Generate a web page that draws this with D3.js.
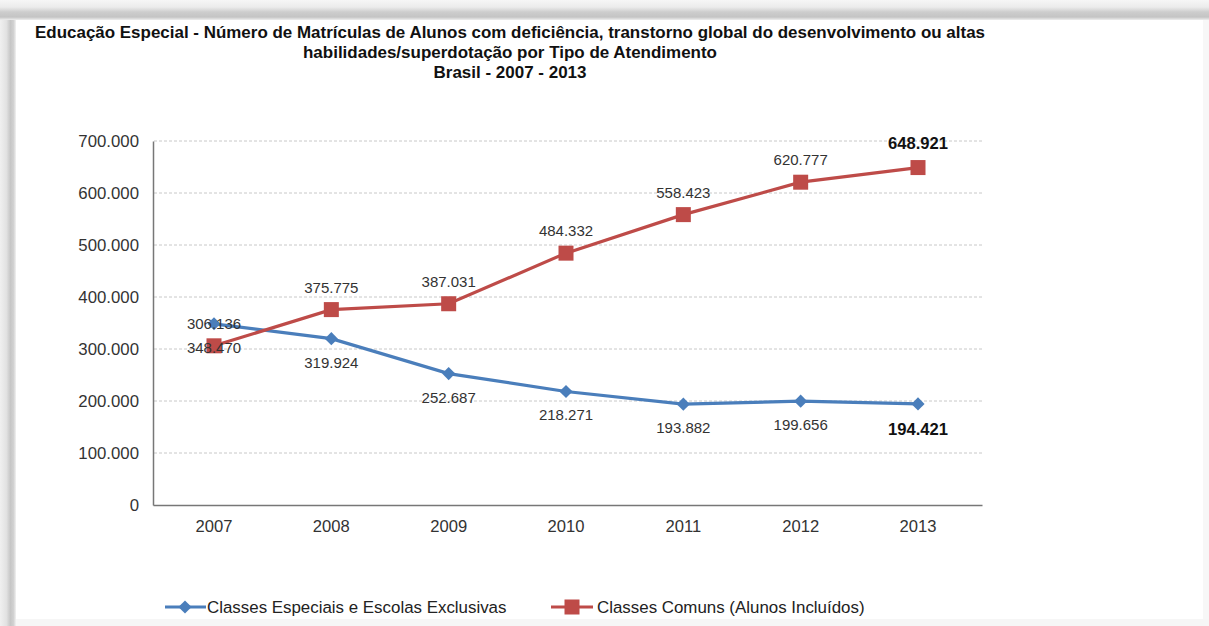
<!DOCTYPE html>
<html><head><meta charset="utf-8">
<script src="https://cdn.jsdelivr.net/npm/d3@7"></script>
<style>html,body{margin:0;padding:0;background:#fff;overflow:hidden}</style>
</head><body>
<svg id="c" width="1209" height="626"></svg>
<script>
const years = ["2007","2008","2009","2010","2011","2012","2013"];
const especiais = [348470, 319924, 252687, 218271, 193882, 199656, 194421];
const comuns = [306136, 375775, 387031, 484332, 558423, 620777, 648921];
const yTicks = [0,100000,200000,300000,400000,500000,600000,700000];
const titleLines = ["Educação Especial - Número de Matrículas de Alunos com deficiência, transtorno global do desenvolvimento ou altas",
  "habilidades/superdotação por Tipo de Atendimento", "Brasil - 2007 - 2013"];
const seriesNames = ["Classes Especiais e Escolas Exclusivas","Classes Comuns (Alunos Incluídos)"];

const svg = d3.select("#c");
const defs = svg.append("defs");
const gt = defs.append("linearGradient").attr("id","gt").attr("x1",0).attr("y1",0).attr("x2",0).attr("y2",1);
[[0,"#f6f6f6"],[0.35,"#ececec"],[0.6,"#cdcdcd"],[0.85,"#c4c4c4"],[1,"#eeeeee"]].forEach(s=>gt.append("stop").attr("offset",s[0]).attr("stop-color",s[1]));
const gl = defs.append("linearGradient").attr("id","gl").attr("x1",0).attr("y1",0).attr("x2",1).attr("y2",0);
[[0,"#f0f0f0"],[0.4,"#e2e2e2"],[0.65,"#c6c6c6"],[0.85,"#d2d2d2"],[1,"#f2f2f2"]].forEach(s=>gl.append("stop").attr("offset",s[0]).attr("stop-color",s[1]));

svg.append("rect").attr("x",0).attr("y",0).attr("width",1209).attr("height",626).attr("fill","#fff");
svg.append("rect").attr("x",0).attr("y",0).attr("width",16).attr("height",626).attr("fill","url(#gl)");
svg.append("rect").attr("x",0).attr("y",0).attr("width",1209).attr("height",20).attr("fill","url(#gt)");
svg.append("rect").attr("x",1203).attr("y",20).attr("width",6).attr("height",606).attr("fill","#f7f7f7");
svg.append("rect").attr("x",16).attr("y",619).attr("width",1193).attr("height",7).attr("fill","#f6f6f6");

// title
const tf = "'Liberation Sans Narrow','Liberation Sans',Arial,sans-serif";
const tpos = [[510,38,950],[510,58,414],[510,78,153]];
titleLines.forEach((t,i)=>{
  svg.append("text").attr("x",tpos[i][0]).attr("y",tpos[i][1]).attr("text-anchor","middle")
    .attr("font-family",tf).attr("font-weight","bold").attr("font-size",16.5).attr("fill","#111")
    .attr("textLength",tpos[i][2]).attr("lengthAdjust","spacingAndGlyphs").text(t);
});

const x = d3.scalePoint().domain(years).range([214,918]);
const y = d3.scaleLinear().domain([0,700000]).range([505,141]);
const fmt = v => d3.format(",")(v).replace(/,/g,".");
const font = "'Liberation Sans',Arial,sans-serif";

// gridlines
svg.append("g").selectAll("line").data(yTicks.filter(d=>d>0)).join("line")
  .attr("x1",154).attr("x2",982).attr("y1",d=>y(d)).attr("y2",d=>y(d))
  .attr("stroke","#c8c8c8").attr("stroke-width",1).attr("stroke-dasharray","3,2");

// y axis
const yAxis = svg.append("g").attr("transform","translate(153,0)")
  .call(d3.axisLeft(y).tickValues(yTicks).tickFormat(fmt).tickSize(0).tickPadding(14));
yAxis.select(".domain").attr("stroke","#777").attr("stroke-width",1.5);
yAxis.selectAll("text").attr("font-family",font).attr("font-size",16.8).attr("fill","#333");
// x axis
const xAxis = svg.append("g").attr("transform","translate(0,505)")
  .call(d3.axisBottom(d3.scaleLinear().domain([0,1]).range([153,982])).ticks(0).tickSize(0));
xAxis.select(".domain").attr("stroke","#777").attr("stroke-width",1.5);
svg.append("g").selectAll("text").data(years).join("text")
  .attr("x",d=>x(d)).attr("y",532).attr("text-anchor","middle")
  .attr("font-family",font).attr("font-size",16.6).attr("fill","#333").text(d=>d);

const blue = "#4a7ebb", red = "#be4b48";
const line = d3.line().x((d,i)=>x(years[i])).y(d=>y(d));
svg.append("path").datum(especiais).attr("d",line).attr("fill","none").attr("stroke",blue).attr("stroke-width",3.2);
svg.append("path").datum(comuns).attr("d",line).attr("fill","none").attr("stroke",red).attr("stroke-width",3.2);

const diamond = d3.symbol().type(d3.symbolDiamond2).size(110);
svg.append("g").selectAll("path").data(especiais).join("path")
  .attr("transform",(d,i)=>`translate(${x(years[i])},${y(d)})`).attr("d",diamond).attr("fill",blue);
svg.append("g").selectAll("rect").data(comuns).join("rect")
  .attr("x",(d,i)=>x(years[i])-7.5).attr("y",d=>y(d)-7.5).attr("width",15).attr("height",15).attr("fill",red);

// labels
const last = years.length-1;
svg.append("g").selectAll("text").data(especiais).join("text")
  .attr("x",(d,i)=>x(years[i])).attr("y",(d,i)=>y(d)+(i===last?31:29)).attr("text-anchor","middle")
  .attr("font-family",font).attr("font-size",(d,i)=>i===last?16.6:15).attr("font-weight",(d,i)=>i===last?"bold":"normal")
  .attr("fill",(d,i)=>i===last?"#111":"#333").text(fmt);
svg.append("g").selectAll("text").data(comuns).join("text")
  .attr("x",(d,i)=>x(years[i])).attr("y",(d,i)=>y(d)-(i===last?19:17)).attr("text-anchor","middle")
  .attr("font-family",font).attr("font-size",(d,i)=>i===last?16.6:15).attr("font-weight",(d,i)=>i===last?"bold":"normal")
  .attr("fill",(d,i)=>i===last?"#111":"#333").text(fmt);

// legend
const lg = svg.append("g");
lg.append("line").attr("x1",165).attr("x2",206).attr("y1",607).attr("y2",607).attr("stroke",blue).attr("stroke-width",3.2);
lg.append("path").attr("transform","translate(185,607)").attr("d",diamond).attr("fill",blue);
lg.append("text").attr("x",207).attr("y",613).attr("font-family",font).attr("font-size",16.9).attr("fill","#222").text(seriesNames[0]);
lg.append("line").attr("x1",551).attr("x2",593).attr("y1",607).attr("y2",607).attr("stroke",red).attr("stroke-width",3.2);
lg.append("rect").attr("x",564.5).attr("y",599.5).attr("width",15).attr("height",15).attr("fill",red);
lg.append("text").attr("x",597).attr("y",613).attr("font-family",font).attr("font-size",16.9).attr("fill","#222").text(seriesNames[1]);
</script>
</body></html>
